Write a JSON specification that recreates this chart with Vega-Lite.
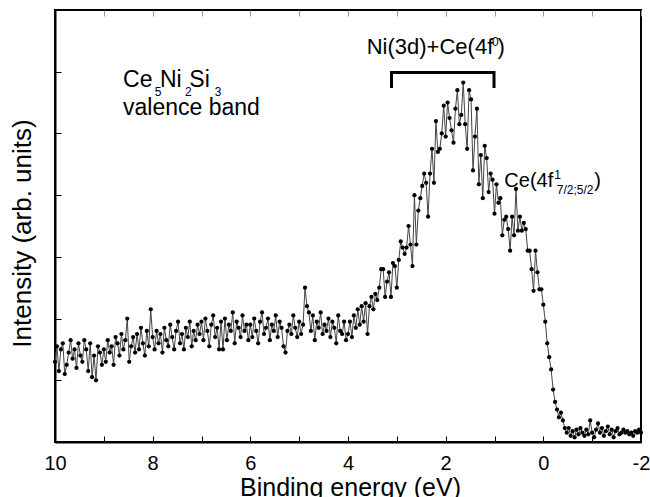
{
"$schema": "https://vega.github.io/schema/vega-lite/v6.json",
"width": 586, "height": 432,
"autosize": {"type": "none"},
"padding": {"left": 55, "top": 10, "right": 9, "bottom": 55},
"background": "white",
"config": {
 "view": {"stroke": "black", "strokeWidth": 2},
 "axis": {"grid": false, "domainColor": "black", "domainWidth": 2, "tickColor": "black", "tickWidth": 1, "labelFont": "Liberation Sans", "titleFont": "Liberation Sans", "labelColor": "black", "titleColor": "black", "titleFontWeight": "normal"},
 "text": {"font": "Liberation Sans", "color": "black"}
},
"data": {"values": [
{"e":10.00,"i":2.6},{"e":9.96,"i":3.1},{"e":9.92,"i":2.3},{"e":9.88,"i":3.0},{"e":9.84,"i":3.2},{"e":9.80,"i":2.2},{"e":9.76,"i":2.5},{"e":9.72,"i":2.9},{"e":9.68,"i":3.3},{"e":9.64,"i":2.7},{"e":9.60,"i":3.0},{"e":9.56,"i":2.4},{"e":9.52,"i":3.2},{"e":9.48,"i":2.8},{"e":9.44,"i":2.6},{"e":9.40,"i":3.3},{"e":9.36,"i":3.0},{"e":9.32,"i":2.3},{"e":9.28,"i":3.2},{"e":9.24,"i":2.1},{"e":9.20,"i":2.8},{"e":9.16,"i":2.0},{"e":9.12,"i":3.1},{"e":9.08,"i":2.9},{"e":9.04,"i":2.5},
{"e":9.00,"i":3.0},{"e":8.96,"i":2.6},{"e":8.92,"i":3.3},{"e":8.88,"i":2.9},{"e":8.84,"i":3.1},{"e":8.80,"i":2.5},{"e":8.76,"i":3.4},{"e":8.72,"i":3.2},{"e":8.68,"i":2.8},{"e":8.64,"i":3.5},{"e":8.60,"i":3.0},{"e":8.56,"i":3.3},{"e":8.52,"i":4.0},{"e":8.48,"i":2.6},{"e":8.44,"i":3.1},{"e":8.40,"i":3.4},{"e":8.36,"i":2.9},{"e":8.32,"i":3.5},{"e":8.28,"i":3.0},{"e":8.24,"i":3.7},{"e":8.20,"i":3.2},{"e":8.16,"i":2.8},{"e":8.12,"i":3.6},{"e":8.08,"i":3.1},{"e":8.04,"i":4.3},
{"e":8.00,"i":3.4},{"e":7.96,"i":3.0},{"e":7.92,"i":3.6},{"e":7.88,"i":3.2},{"e":7.84,"i":3.5},{"e":7.80,"i":2.9},{"e":7.76,"i":3.7},{"e":7.72,"i":3.3},{"e":7.68,"i":3.1},{"e":7.64,"i":3.8},{"e":7.60,"i":3.4},{"e":7.56,"i":3.0},{"e":7.52,"i":3.6},{"e":7.48,"i":3.9},{"e":7.44,"i":3.2},{"e":7.40,"i":3.5},{"e":7.36,"i":3.0},{"e":7.32,"i":3.7},{"e":7.28,"i":3.4},{"e":7.24,"i":3.9},{"e":7.20,"i":3.1},{"e":7.16,"i":3.6},{"e":7.12,"i":3.3},{"e":7.08,"i":3.8},{"e":7.04,"i":3.5},
{"e":7.00,"i":3.9},{"e":6.96,"i":3.3},{"e":6.92,"i":4.0},{"e":6.88,"i":3.6},{"e":6.84,"i":3.1},{"e":6.80,"i":3.8},{"e":6.76,"i":4.1},{"e":6.72,"i":3.4},{"e":6.68,"i":3.7},{"e":6.64,"i":3.0},{"e":6.60,"i":3.9},{"e":6.56,"i":3.0},{"e":6.52,"i":4.0},{"e":6.48,"i":3.3},{"e":6.44,"i":3.8},{"e":6.40,"i":3.6},{"e":6.36,"i":4.2},{"e":6.32,"i":3.2},{"e":6.28,"i":3.9},{"e":6.24,"i":3.7},{"e":6.20,"i":3.4},{"e":6.16,"i":4.1},{"e":6.12,"i":3.6},{"e":6.08,"i":3.8},{"e":6.04,"i":3.3},
{"e":6.00,"i":3.8},{"e":5.96,"i":3.4},{"e":5.92,"i":4.0},{"e":5.88,"i":3.6},{"e":5.84,"i":3.2},{"e":5.80,"i":3.9},{"e":5.76,"i":4.2},{"e":5.72,"i":3.5},{"e":5.68,"i":3.7},{"e":5.64,"i":4.0},{"e":5.60,"i":3.3},{"e":5.56,"i":3.8},{"e":5.52,"i":3.6},{"e":5.48,"i":4.1},{"e":5.44,"i":3.4},{"e":5.40,"i":3.9},{"e":5.36,"i":3.7},{"e":5.32,"i":3.1},{"e":5.28,"i":2.9},{"e":5.24,"i":3.6},{"e":5.20,"i":3.8},{"e":5.16,"i":3.5},{"e":5.12,"i":4.1},{"e":5.08,"i":3.7},{"e":5.04,"i":3.4},
{"e":5.00,"i":3.9},{"e":4.96,"i":3.5},{"e":4.92,"i":3.8},{"e":4.88,"i":5.0},{"e":4.84,"i":4.4},{"e":4.80,"i":4.2},{"e":4.76,"i":3.6},{"e":4.72,"i":4.1},{"e":4.68,"i":3.3},{"e":4.64,"i":3.9},{"e":4.60,"i":3.7},{"e":4.56,"i":4.2},{"e":4.52,"i":3.5},{"e":4.48,"i":3.8},{"e":4.44,"i":3.6},{"e":4.40,"i":4.0},{"e":4.36,"i":3.4},{"e":4.32,"i":3.9},{"e":4.28,"i":3.7},{"e":4.24,"i":3.2},{"e":4.20,"i":4.1},{"e":4.16,"i":3.6},{"e":4.12,"i":3.5},{"e":4.08,"i":3.9},{"e":4.04,"i":3.3},
{"e":4.00,"i":3.5},{"e":3.96,"i":3.9},{"e":3.92,"i":3.4},{"e":3.88,"i":4.1},{"e":3.84,"i":3.7},{"e":3.80,"i":4.3},{"e":3.76,"i":3.8},{"e":3.72,"i":4.4},{"e":3.68,"i":3.9},{"e":3.64,"i":4.5},{"e":3.60,"i":3.5},{"e":3.56,"i":4.4},{"e":3.52,"i":4.7},{"e":3.48,"i":4.3},{"e":3.44,"i":4.8},{"e":3.40,"i":4.6},{"e":3.36,"i":5.0},{"e":3.32,"i":5.6},{"e":3.28,"i":5.6},{"e":3.24,"i":4.7},{"e":3.20,"i":5.2},{"e":3.16,"i":5.5},{"e":3.12,"i":4.7},{"e":3.08,"i":5.8},{"e":3.04,"i":5.7},
{"e":3.00,"i":5.0},{"e":2.96,"i":5.9},{"e":2.92,"i":6.5},{"e":2.88,"i":6.3},{"e":2.84,"i":6.1},{"e":2.80,"i":6.3},{"e":2.76,"i":7.0},{"e":2.72,"i":6.4},{"e":2.68,"i":5.7},{"e":2.64,"i":8.0},{"e":2.60,"i":6.4},{"e":2.56,"i":7.5},{"e":2.52,"i":7.9},{"e":2.48,"i":8.3},{"e":2.44,"i":8.7},{"e":2.40,"i":8.4},{"e":2.36,"i":7.3},{"e":2.32,"i":8.7},{"e":2.28,"i":9.5},{"e":2.24,"i":8.4},{"e":2.20,"i":10.4},{"e":2.16,"i":9.4},{"e":2.12,"i":9.5},{"e":2.08,"i":10.0},{"e":2.04,"i":10.9},
{"e":2.00,"i":9.9},{"e":1.96,"i":11.0},{"e":1.92,"i":10.5},{"e":1.88,"i":10.1},{"e":1.84,"i":9.7},{"e":1.80,"i":10.8},{"e":1.76,"i":11.4},{"e":1.72,"i":10.3},{"e":1.68,"i":10.6},{"e":1.64,"i":11.65},{"e":1.60,"i":10.3},{"e":1.56,"i":9.5},{"e":1.52,"i":11.4},{"e":1.48,"i":11.1},{"e":1.44,"i":8.8},{"e":1.40,"i":9.9},{"e":1.36,"i":10.8},{"e":1.32,"i":8.35},{"e":1.28,"i":9.3},{"e":1.24,"i":7.9},{"e":1.20,"i":9.6},{"e":1.16,"i":9.2},{"e":1.12,"i":8.1},{"e":1.08,"i":8.7},{"e":1.04,"i":8.5},
{"e":1.00,"i":7.4},{"e":0.96,"i":8.35},{"e":0.92,"i":7.75},{"e":0.88,"i":7.9},{"e":0.84,"i":6.7},{"e":0.80,"i":7.2},{"e":0.76,"i":7.3},{"e":0.72,"i":6.9},{"e":0.68,"i":6.2},{"e":0.64,"i":7.3},{"e":0.60,"i":6.7},{"e":0.56,"i":8.2},{"e":0.52,"i":6.85},{"e":0.48,"i":7.3},{"e":0.44,"i":6.85},{"e":0.40,"i":7.1},{"e":0.36,"i":6.9},{"e":0.32,"i":6.2},{"e":0.28,"i":6.2},{"e":0.24,"i":5.6},{"e":0.20,"i":4.9},{"e":0.16,"i":6.2},{"e":0.12,"i":5.5},{"e":0.08,"i":4.95},{"e":0.04,"i":4.95},
{"e":0.00,"i":4.45},{"e":-0.04,"i":3.9},{"e":-0.08,"i":3.2},{"e":-0.12,"i":2.75},{"e":-0.16,"i":2.35},{"e":-0.20,"i":1.7},{"e":-0.24,"i":1.3},{"e":-0.28,"i":1.05},{"e":-0.32,"i":0.8},{"e":-0.36,"i":0.95},{"e":-0.40,"i":0.7},{"e":-0.44,"i":0.45},{"e":-0.48,"i":0.3},{"e":-0.52,"i":0.45},{"e":-0.56,"i":0.2},{"e":-0.60,"i":0.35},{"e":-0.64,"i":0.15},{"e":-0.68,"i":0.4},{"e":-0.72,"i":0.25},{"e":-0.76,"i":0.45},{"e":-0.80,"i":0.3},{"e":-0.84,"i":0.2},{"e":-0.88,"i":0.4},{"e":-0.92,"i":0.25},{"e":-0.96,"i":0.7},
{"e":-1.00,"i":0.3},{"e":-1.04,"i":0.15},{"e":-1.08,"i":0.4},{"e":-1.12,"i":0.6},{"e":-1.16,"i":0.3},{"e":-1.20,"i":0.45},{"e":-1.24,"i":0.2},{"e":-1.28,"i":0.35},{"e":-1.32,"i":0.5},{"e":-1.36,"i":0.25},{"e":-1.40,"i":0.4},{"e":-1.44,"i":0.15},{"e":-1.48,"i":0.35},{"e":-1.52,"i":0.45},{"e":-1.56,"i":0.25},{"e":-1.60,"i":0.3},{"e":-1.64,"i":0.4},{"e":-1.68,"i":0.3},{"e":-1.72,"i":0.35},{"e":-1.76,"i":0.25},{"e":-1.80,"i":0.3},{"e":-1.84,"i":0.2},{"e":-1.88,"i":0.35},{"e":-1.92,"i":0.3},{"e":-1.96,"i":0.4},{"e":-2.00,"i":0.3}
]},
"layer": [
 {
  "mark": {"type": "line", "color": "#444", "strokeWidth": 1},
  "encoding": {
   "x": {"field": "e", "type": "quantitative", "scale": {"domain": [10, -2], "nice": false, "zero": false},
    "axis": {"title": "Binding energy  (eV)", "values": [10,9,8,7,6,5,4,3,2,1,0,-1,-2], "labelExpr": "datum.value % 2 === 0 ? '' + datum.value : ''", "tickSize": -6, "labelPadding": 17, "labelFontSize": 20, "labelFlush": false, "titleFontSize": 25, "titleX": 295, "titleY": 53, "titleBaseline": "alphabetic", "titleAlign": "center"}},
   "y": {"field": "i", "type": "quantitative", "scale": {"domain": [0, 14], "nice": false, "zero": false},
    "axis": {"title": "Intensity  (arb. units)", "values": [0,1,2,3,4,5,6,7,8,9,10,11,12,13,14], "labels": false, "tickSize": -6, "titleFontSize": 26, "titleX": -25, "titleY": 223, "titleBaseline": "alphabetic", "titleAlign": "center", "titleAngle": -90}}
  }
 },
 {
  "mark": {"type": "point", "filled": true, "color": "black", "size": 18, "opacity": 1},
  "encoding": {
   "x": {"field": "e", "type": "quantitative", "axis": {"orient": "top", "labels": false, "title": null, "values": [10,9,8,7,6,5,4,3,2,1,0,-1,-2], "tickSize": -6, "tickColor": "#999", "domain": false}},
   "y": {"field": "i", "type": "quantitative"}
  }
 },
 {
  "data": {"values": [{"e":3.109,"i":11.472,"k":1},{"e":3.109,"i":11.975,"k":2},{"e":1.010,"i":11.975,"k":3},{"e":1.010,"i":11.472,"k":4}]},
  "mark": {"type": "line", "color": "black", "strokeWidth": 3, "strokeCap": "butt", "strokeJoin": "miter"},
  "encoding": {
   "x": {"field": "e", "type": "quantitative", "axis": null},
   "y": {"field": "i", "type": "quantitative"},
   "order": {"field": "k"}
  }
 },
 {
  "data": {"values": [{"e":8.607,"i":11.495,"t":"Ce"},{"e":7.850,"i":11.495,"t":"Ni"},{"e":7.250,"i":11.495,"t":"Si"},{"e":8.607,"i":10.597,"t":"valence band"}]},
  "mark": {"type": "text", "align": "left", "baseline": "alphabetic", "fontSize": 23, "color": "black"},
  "encoding": {"x": {"field": "e", "type": "quantitative", "axis": null}, "y": {"field": "i", "type": "quantitative"}, "text": {"field": "t"}}
 },
 {
  "data": {"values": [{"e":3.617,"i":12.564,"t":"Ni(3d)+Ce(4f"},{"e":0.9385,"i":12.564,"t":")"}]},
  "mark": {"type": "text", "align": "left", "baseline": "alphabetic", "fontSize": 22, "color": "black"},
  "encoding": {"x": {"field": "e", "type": "quantitative", "axis": null}, "y": {"field": "i", "type": "quantitative"}, "text": {"field": "t"}}
 },
 {
  "data": {"values": [{"e":0.799,"i":8.254,"t":"Ce(4f"},{"e":-1.044,"i":8.254,"t":")"}]},
  "mark": {"type": "text", "align": "left", "baseline": "alphabetic", "fontSize": 20, "color": "black"},
  "encoding": {"x": {"field": "e", "type": "quantitative", "axis": null}, "y": {"field": "i", "type": "quantitative"}, "text": {"field": "t"}}
 },
 {
  "data": {"values": [{"e":7.955,"i":11.223,"t":"5"},{"e":7.34,"i":11.223,"t":"2"},{"e":6.73,"i":11.223,"t":"3"},{"e":1.051,"i":12.833,"t":"0"},{"e":-0.225,"i":8.539,"t":"1"},{"e":-0.274,"i":8.027,"t":"7/2;5/2"}]},
  "mark": {"type": "text", "align": "left", "baseline": "alphabetic", "fontSize": 12, "color": "black"},
  "encoding": {"x": {"field": "e", "type": "quantitative", "axis": null}, "y": {"field": "i", "type": "quantitative"}, "text": {"field": "t"}}
 }
],
"resolve": {"axis": {"x": "independent"}}
}
